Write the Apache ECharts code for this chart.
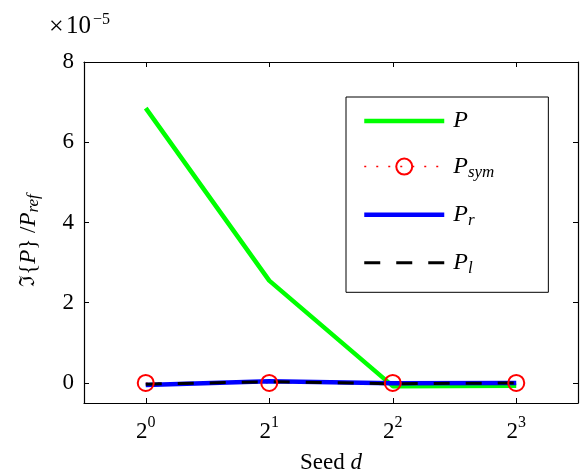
<!DOCTYPE html>
<html><head><meta charset="utf-8">
<script src="https://cdn.jsdelivr.net/npm/echarts@6/dist/echarts.min.js"></script>
<style>html,body{margin:0;padding:0;background:#fff}#c{width:582px;height:476px}</style>
</head><body><div id="c"></div>
<script>
// Seeds d = 2^k, plotted at their exponent k
const seedExponents = [0, 1, 2, 3];
// Imaginary part of power, normalised by P_ref
const seriesP    = [6.85e-5, 2.55e-5, -0.08e-5, -0.07e-5];
const seriesPsym = [0, 0, 0, 0];
const seriesPr   = [-0.05e-5, 0.04e-5, -0.01e-5, 0.0];
const seriesPl   = [-0.03e-5, 0.03e-5, -0.02e-5, 0.0];
const yTickValues = [0, 2e-5, 4e-5, 6e-5, 8e-5];
const yScale = 1e-5;

const FONT = 'Liberation Serif';
const pairs = ys => seedExponents.map((x, i) => [x, ys[i]]);

const chart = echarts.init(document.getElementById('c'), null, {renderer: 'canvas'});

const tickCommon = {inside: true, length: 5, lineStyle: {color: '#000', width: 1}};
const yTick = Object.assign({customValues: yTickValues}, tickCommon);
const xTick = Object.assign({customValues: seedExponents}, tickCommon);
const frameLine = {show: true, onZero: false, lineStyle: {color: '#000', width: 1.2}};

const legendNames = {
  'P': '{i|P}',
  'Psym': '{i|P}{s|sym}',
  'Pr': '{i|P}{s|r}',
  'Pl': '{i|P}{s|l}'
};
// legend keys draw only the line, except P_sym which keeps its circle
const noMarker = {color: 'rgba(0,0,0,0)', borderWidth: 0};

chart.setOption({
  animation: false,
  backgroundColor: '#fff',
  // exponent multiplier of the y axis
  graphic: [{
    type: 'text', left: 49, top: 14, silent: true,
    style: {text: '×', fontSize: 26, fontFamily: FONT, fill: '#000'}
  }, {
    type: 'text', left: 66, top: 14, silent: true,
    style: {text: '10', fontSize: 25, fontFamily: FONT, fill: '#000'}
  }, {
    type: 'text', left: 93, top: 12, silent: true,
    style: {text: '−5', fontSize: 16, fontFamily: FONT, fill: '#000'}
  }],
  grid: {left: 84, top: 62, right: 4, bottom: 73, containLabel: false, outerBoundsMode: 'none'},
  legend: {
    orient: 'vertical',
    left: 346, top: 97,
    padding: [12, 54, 15, 16],
    itemWidth: 80, itemHeight: 20, itemGap: 21.6,
    borderColor: '#000', borderWidth: 1, borderRadius: 0,
    backgroundColor: '#fff',
    data: [
      {name: 'P', itemStyle: noMarker, lineStyle: {width: 4.5}},
      {name: 'Psym', lineStyle: {width: 1.5}},
      {name: 'Pr', itemStyle: noMarker, lineStyle: {width: 4.5}},
      {name: 'Pl', itemStyle: noMarker, lineStyle: {width: 3}}
    ],
    formatter: n => legendNames[n],
    textStyle: {
      padding: [0, 0, 0, 4],
      rich: {
        i: {fontFamily: FONT, fontStyle: 'italic', fontSize: 24, color: '#000', verticalAlign: 'middle'},
        s: {fontFamily: FONT, fontStyle: 'italic', fontSize: 17, color: '#000', verticalAlign: 'bottom', padding: [12, 0, 0, 0]}
      }
    }
  },
  xAxis: [{
    type: 'value', min: -0.5, max: 3.5, position: 'bottom',
    name: '{n|Seed }{i|d}', nameLocation: 'middle', nameGap: 48,
    nameTextStyle: {rich: {
      n: {fontFamily: FONT, fontSize: 23, color: '#000'},
      i: {fontFamily: FONT, fontSize: 23, fontStyle: 'italic', color: '#000'}
    }},
    axisLine: frameLine,
    axisTick: xTick,
    splitLine: {show: false},
    axisLabel: {
      customValues: seedExponents, margin: 12,
      formatter: v => '{b|2}{e|' + v + '}',
      rich: {
        b: {fontFamily: FONT, fontSize: 23, color: '#000', verticalAlign: 'bottom', lineHeight: 28},
        e: {fontFamily: FONT, fontSize: 16, color: '#000', verticalAlign: 'top', lineHeight: 28, padding: [0, 0, 12, 0]}
      }
    }
  }, {
    type: 'value', min: -0.5, max: 3.5, position: 'top',
    axisLine: frameLine,
    axisTick: xTick, axisLabel: {show: false}, splitLine: {show: false}
  }],
  yAxis: [{
    type: 'value', min: -0.5e-5, max: 8e-5, position: 'left',
    name: '{n|ℑ}{{i|P}} /{i|P}{s|ref}',
    nameLocation: 'middle', nameRotate: 90, nameGap: 42,
    nameTextStyle: {fontFamily: FONT, fontSize: 23, color: '#000', padding: [0, 16, 0, 0], rich: {
      n: {fontFamily: 'DejaVu Serif', fontSize: 21, color: '#000'},
      i: {fontFamily: FONT, fontSize: 23, fontStyle: 'italic', color: '#000'},
      s: {fontFamily: FONT, fontSize: 17, fontStyle: 'italic', color: '#000', verticalAlign: 'bottom', padding: [10, 0, 0, 0]}
    }},
    axisLine: frameLine,
    axisTick: yTick,
    splitLine: {show: false},
    axisLabel: {
      customValues: yTickValues, margin: 10,
      fontFamily: FONT, fontSize: 23, color: '#000',
      formatter: v => String(Math.round(v / yScale))
    }
  }, {
    type: 'value', min: -0.5e-5, max: 8e-5, position: 'right',
    axisLine: frameLine,
    axisTick: yTick, axisLabel: {show: false}, splitLine: {show: false}
  }],
  series: [{
    name: 'P', type: 'line', data: pairs(seriesP),
    showSymbol: false, symbol: 'none',
    lineStyle: {color: '#00ff00', width: 4.5},
    itemStyle: {color: '#00ff00'}
  }, {
    name: 'Psym', type: 'line', data: pairs(seriesPsym),
    symbol: 'circle', symbolSize: 16,
    lineStyle: {color: '#ff0000', width: 1, type: [2, 10]},
    itemStyle: {color: 'rgba(0,0,0,0)', borderColor: '#ff0000', borderWidth: 2}
  }, {
    name: 'Pr', type: 'line', data: pairs(seriesPr),
    showSymbol: false, symbol: 'none',
    lineStyle: {color: '#0000ff', width: 4.5},
    itemStyle: {color: '#0000ff'}
  }, {
    name: 'Pl', type: 'line', data: pairs(seriesPl),
    showSymbol: false, symbol: 'none',
    lineStyle: {color: '#000', width: 3, type: [16, 16]},
    itemStyle: {color: '#000'}
  }]
});
</script>
</body></html>
